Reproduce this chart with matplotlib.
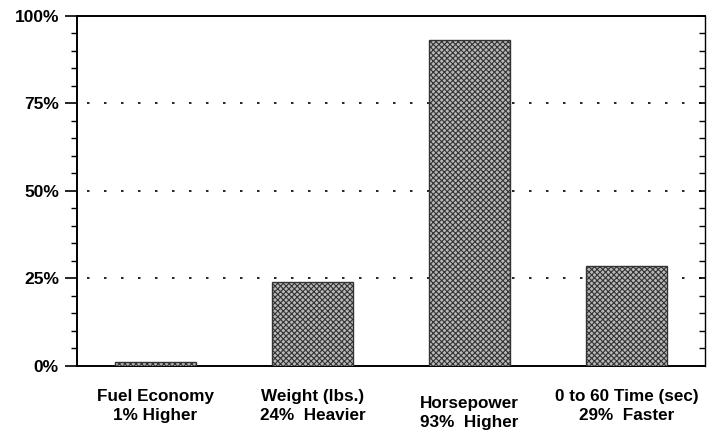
import matplotlib
matplotlib.use("Agg")
import matplotlib.pyplot as plt
import numpy as np
from matplotlib.ticker import MultipleLocator, FuncFormatter

plt.rcParams['font.family'] = ['Liberation Sans', 'DejaVu Sans']
plt.rcParams['hatch.color'] = '#4a4a4a'
plt.rcParams['hatch.linewidth'] = 0.8

categories = ["Fuel Economy\n1% Higher", "Weight (lbs.)\n24%  Heavier",
              "Horsepower\n93%  Higher", "0 to 60 Time (sec)\n29%  Faster"]
values = [1, 24, 93, 28.6]
yticks = [0, 25, 50, 75, 100]

fig = plt.figure(figsize=(7.1, 4.3), dpi=100)
ax = fig.add_axes([0.1085, 0.149, 0.8845, 0.814])

x = np.arange(len(categories))
ax.bar(x, values, width=0.51, facecolor='#b8b8b8', edgecolor='#333333',
       linewidth=1.0, hatch='xxxxxx', zorder=3)

ax.set_xlim(-0.5, 3.5)
ax.set_ylim(0, 100)
ax.set_yticks(yticks)
ax.yaxis.set_minor_locator(MultipleLocator(5))
ax.yaxis.set_major_formatter(FuncFormatter(lambda v, p: f"{int(v)}%"))
for t in yticks[1:-1]:
    ax.axhline(t, color='black', linewidth=1.2, linestyle=(4.2, (1.5, 8.7)), zorder=1)

ax.tick_params(axis='y', which='major', direction='out', length=9, width=1.2,
               labelsize=12.5, pad=4)
ax.tick_params(axis='y', which='minor', direction='out', length=4, width=1.0)
ax.tick_params(axis='y', which='both', right=True)
ax.yaxis.set_tick_params(which='both', labelright=False)
for tick in ax.yaxis.get_major_ticks() + ax.yaxis.get_minor_ticks():
    tick.tick2line.set_marker(0)  # inward on right side
    tick.tick2line.set_markersize(4)
for lab in ax.get_yticklabels():
    lab.set_fontweight('bold')

ax.set_xticks(x)
ax.set_xticklabels([])
ax.tick_params(axis='x', length=0)
offsets = [0, 0, -0.02, 0]
for xi, lab, off in zip(x, categories, offsets):
    ax.text(xi, -0.065 + off, lab, transform=ax.get_xaxis_transform(), ha='center',
            va='top', fontsize=12.3, fontweight='bold', linespacing=1.35)

for s in ['left', 'bottom', 'top', 'right']:
    ax.spines[s].set_linewidth(1.4)
ax.spines['right'].set_linewidth(1.0)

fig.savefig("out.png", dpi=100)
